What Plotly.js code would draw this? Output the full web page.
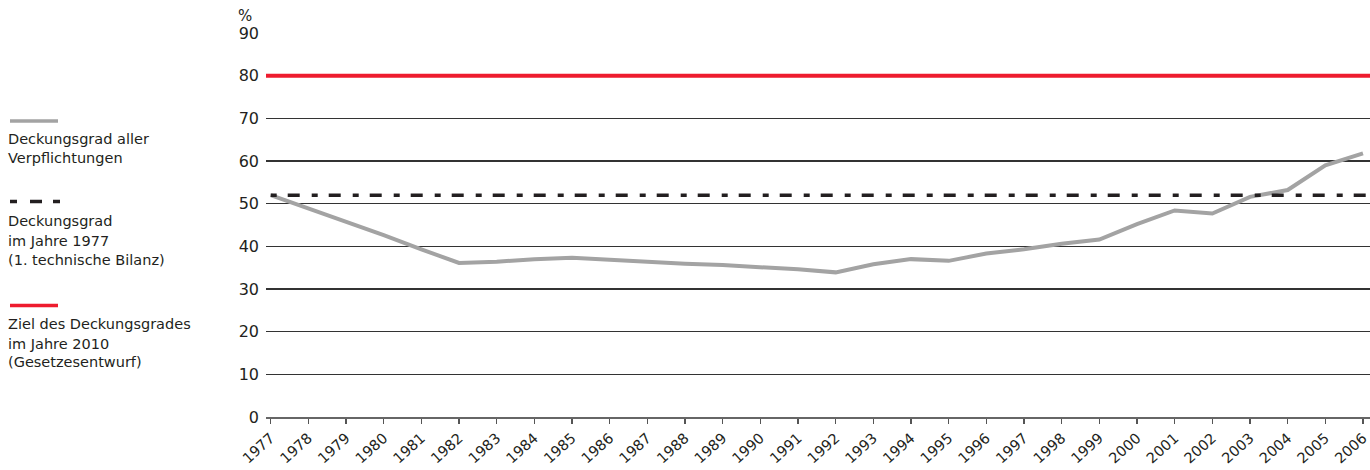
<!DOCTYPE html>
<html>
<head>
<meta charset="utf-8">
<script src="https://cdn.plot.ly/plotly-3.0.1.min.js"></script>
<style>
  html, body { margin: 0; padding: 0; background: #fff; }
  #chart { width: 1370px; height: 470px; }
</style>
</head>
<body>
<div id="chart"></div>
<script>
// Jahre der technischen Bilanzen
const years = [1977, 1978, 1979, 1980, 1981, 1982, 1983, 1984, 1985, 1986,
               1987, 1988, 1989, 1990, 1991, 1992, 1993, 1994, 1995, 1996,
               1997, 1998, 1999, 2000, 2001, 2002, 2003, 2004, 2005, 2006];
const yearLabels = years.map(String);

// Deckungsgrad aller Verpflichtungen in %
const coverage = [52.0, 48.9, 45.6, 42.6, 39.3, 36.1, 36.4, 37.0, 37.3, 36.8,
                  36.2, 35.9, 35.6, 35.2, 34.6, 33.9, 35.8, 37.0, 36.6, 38.3,
                  39.3, 40.6, 41.6, 45.2, 48.4, 47.7, 51.6, 53.2, 59.0, 61.8];

// Zielwert für 2010 laut Gesetzesentwurf, in %
const target2010 = 80;

// Legendentexte
const legendItems = [
  ["Deckungsgrad aller", "Verpflichtungen"],
  ["Deckungsgrad", "im Jahre 1977", "(1. technische Bilanz)"],
  ["Ziel des Deckungsgrades", "im Jahre 2010", "(Gesetzesentwurf)"]
];

const yTicks = [0, 10, 20, 30, 40, 50, 60, 70, 80, 90];

// ---- Darstellung ----
const FONT = "'DejaVu Sans', sans-serif";
const TEXT = "#231f20";
const GREY = "#a3a3a3";
const RED = "#ee1c2e";
const DARK = "#231f20";

const W = 1370, H = 470;
const M = { l: 266, r: 0, t: 33, b: 53 };
const plotW = W - M.l - M.r, plotH = H - M.t - M.b;
const xRange = [1976.875, 2006.186];
const baseline1977 = coverage[0];

// Pixelposition -> Papierkoordinaten (für Legende links neben dem Diagramm)
const px = x => (x - M.l) / plotW;
const py = y => (H - M.b - y) / plotH;

const traces = [
  {
    x: years, y: coverage, type: "scatter", mode: "lines",
    line: { color: GREY, width: 4 }, hoverinfo: "skip"
  },
  {
    x: [years[0], xRange[1]], y: [baseline1977, baseline1977],
    type: "scatter", mode: "lines",
    line: { color: DARK, width: 3.5, dash: "6px,11px,12px,12px" }, hoverinfo: "skip"
  },
  {
    x: [xRange[0], xRange[1]], y: [target2010, target2010],
    type: "scatter", mode: "lines",
    line: { color: RED, width: 4 }, hoverinfo: "skip"
  }
];

const annotations = [];
const shapes = [];

// Legende: Linienmuster über dem jeweiligen Text
const swatchY = [121, 201.5, 305.5];
const textY = [[139, 158], [221, 241, 260], [324, 344, 362]];
legendItems.forEach((lines, i) => {
  lines.forEach((t, j) => {
    annotations.push({
      xref: "paper", yref: "paper", x: px(6), y: py(textY[i][j]),
      xanchor: "left", yanchor: "middle", showarrow: false, text: t,
      font: { family: FONT, size: 14.5, color: TEXT }
    });
  });
});
shapes.push({
  type: "line", xref: "paper", yref: "paper",
  x0: px(10), x1: px(58), y0: py(swatchY[0]), y1: py(swatchY[0]),
  line: { color: GREY, width: 3.5 }
});
shapes.push({
  type: "line", xref: "paper", yref: "paper",
  x0: px(10), x1: px(60), y0: py(swatchY[1]), y1: py(swatchY[1]),
  line: { color: DARK, width: 3.5, dash: "7px,13px,12px,11px" }
});
shapes.push({
  type: "line", xref: "paper", yref: "paper",
  x0: px(10), x1: px(58), y0: py(swatchY[2]), y1: py(swatchY[2]),
  line: { color: RED, width: 3.5 }
});

// Einheit über der y-Achse
annotations.push({
  xref: "paper", yref: "paper", x: px(236), y: py(16),
  xanchor: "left", yanchor: "middle", showarrow: false, text: "%",
  font: { family: FONT, size: 15, color: TEXT }
});

const layout = {
  width: W, height: H,
  margin: M,
  paper_bgcolor: "#fff", plot_bgcolor: "#fff",
  showlegend: false,
  font: { family: FONT, color: TEXT },
  xaxis: {
    type: "linear", range: xRange,
    tickmode: "array", tickvals: years, ticktext: yearLabels,
    tickangle: -42, tickfont: { family: FONT, size: 14.5, color: TEXT },
    ticklabeloverflow: "allow",
    ticks: "outside", ticklen: 5, tickwidth: 1.5, tickcolor: "#555",
    showgrid: false, zeroline: false,
    showline: true, linecolor: "#666", linewidth: 2,
    fixedrange: true
  },
  yaxis: {
    range: [0, 90], tickmode: "array", tickvals: yTicks,
    tickfont: { family: FONT, size: 16, color: TEXT },
    ticks: "", ticklabelstandoff: 6,
    showgrid: true, gridcolor: "#333", gridwidth: 1.3,
    zeroline: false, showline: false,
    fixedrange: true
  },
  annotations: annotations,
  shapes: shapes
};

Plotly.newPlot("chart", traces, layout, { staticPlot: true, displayModeBar: false });
</script>
</body>
</html>
